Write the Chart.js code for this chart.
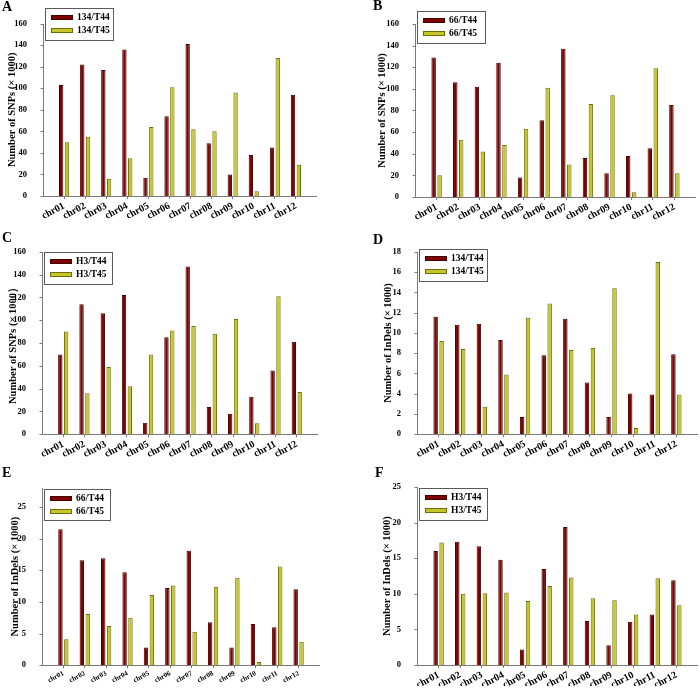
<!DOCTYPE html>
<html>
<head>
<meta charset="utf-8">
<script src="https://cdn.jsdelivr.net/npm/chart.js@4/dist/chart.umd.min.js"></script>
<style>
body { margin: 0; background: #fff; }
#wrap { position: relative; width: 700px; height: 689px; }
.panel { position: absolute; }
.tag { position: absolute; font: bold 14px "Liberation Serif", serif; line-height: 14px; }
</style>
</head>
<body>
<div id="wrap">
  <div class="panel" style="left:0;top:0"><canvas id="cA" width="350" height="228"></canvas></div>
  <div class="panel" style="left:350px;top:0"><canvas id="cB" width="350" height="228"></canvas></div>
  <div class="panel" style="left:0;top:228px"><canvas id="cC" width="350" height="230"></canvas></div>
  <div class="panel" style="left:350px;top:228px"><canvas id="cD" width="350" height="230"></canvas></div>
  <div class="panel" style="left:0;top:458px"><canvas id="cE" width="350" height="231"></canvas></div>
  <div class="panel" style="left:350px;top:458px"><canvas id="cF" width="350" height="231"></canvas></div>
  <div class="tag" style="left:2px;top:0px">A</div>
  <div class="tag" style="left:373px;top:-1px">B</div>
  <div class="tag" style="left:2px;top:231px">C</div>
  <div class="tag" style="left:373px;top:233px">D</div>
  <div class="tag" style="left:2px;top:466px">E</div>
  <div class="tag" style="left:375px;top:466px">F</div>
</div>
<script>
var chromosomes = ['chr01', 'chr02', 'chr03', 'chr04', 'chr05', 'chr06', 'chr07', 'chr08', 'chr09', 'chr10', 'chr11', 'chr12'];

// SNPs (x 1000)
var snpA44 = [103, 122, 117, 136, 17, 74, 141, 49, 20, 38, 45, 94];
var snpA45 = [50, 55, 16, 35, 64, 101, 62, 60, 96, 4.5, 128, 29];
var snpB44 = [129, 106, 102, 124, 18, 71, 137, 36, 22, 38, 45, 85];
var snpB45 = [20, 53, 42, 48, 63, 101, 30, 86, 94, 4.3, 119, 22];
var snpC44 = [70, 114, 106, 122, 10, 85, 147, 24, 18, 33, 56, 81];
var snpC45 = [90, 36, 59, 42, 70, 91, 95, 88, 101, 9.6, 121, 37];

// InDels (x 1000)
var indelD44 = [11.6, 10.8, 10.9, 9.3, 1.7, 7.8, 11.4, 5.1, 1.7, 4.0, 3.9, 7.9];
var indelD45 = [9.2, 8.4, 2.7, 5.9, 11.5, 12.9, 8.3, 8.5, 14.4, 0.6, 17.0, 3.9];
var indelE44 = [21.5, 16.6, 16.9, 14.7, 2.8, 12.2, 18.1, 6.8, 2.8, 6.5, 6.0, 12.0];
var indelE45 = [4.1, 8.1, 6.2, 7.5, 11.1, 12.6, 5.3, 12.4, 13.8, 0.5, 15.6, 3.7];
var indelF44 = [16.0, 17.3, 16.7, 14.8, 2.2, 13.5, 19.4, 6.2, 2.8, 6.1, 7.1, 11.9];
var indelF45 = [17.2, 10.0, 10.1, 10.2, 9.0, 11.1, 12.3, 9.4, 9.1, 7.1, 12.2, 8.4];

var serif = '"Liberation Serif", "Times New Roman", serif';
var red = '#7d0303', redEdge = '#450000';
var yellow = '#c5c52c', yellowEdge = '#6e6e08';

// axis lines drawn half a category beyond the bars, like the original
var axisLines = {
	id: 'axisLines',
	afterDraw: function (chart) {
		var ctx = chart.ctx, area = chart.chartArea, x = chart.scales.x, y = chart.scales.y;
		var half = (area.right - area.left) / x.ticks.length / 2;
		var left = Math.round(area.left - half) + 0.5;
		var right = Math.round(area.right + half);
		var base = Math.round(y.bottom) + 0.5;
		ctx.save();
		ctx.strokeStyle = '#7a7a7a';
		ctx.lineWidth = 1;
		ctx.beginPath();
		ctx.moveTo(left, Math.round(y.top));
		ctx.lineTo(left, base);
		ctx.lineTo(right, base);
		y.ticks.forEach(function (t) {
			var py = Math.round(y.getPixelForValue(t.value)) + 0.5;
			ctx.moveTo(left - 3, py);
			ctx.lineTo(left, py);
		});
		ctx.stroke();
		ctx.restore();
	}
};

var boxLegend = {
	id: 'boxLegend',
	afterDraw: function (chart, args, opts) {
		var ctx = chart.ctx;
		var bx = opts.x, by = opts.y;
		ctx.save();
		ctx.lineWidth = 1;
		ctx.strokeStyle = '#5a5a5a';
		ctx.strokeRect(bx + 0.5, by + 0.5, opts.w, opts.h);
		ctx.font = 'bold 9.5px ' + serif;
		ctx.textBaseline = 'middle';
		chart.data.datasets.forEach(function (ds, i) {
			var cy = Math.round(by + 9 + i * 12.5);
			ctx.fillStyle = ds.backgroundColor;
			ctx.fillRect(bx + 6, cy - 2, 22, 5);
			ctx.strokeStyle = ds.borderColor;
			ctx.strokeRect(bx + 6.5, cy - 1.5, 21, 4);
			ctx.fillStyle = '#000';
			ctx.fillText(ds.label, bx + 32, cy + 0.5);
		});
		ctx.restore();
	}
};

function makePanel(id, g, names, v44, v45, yMax, yStep, yTitle, xSize) {
	var canvas = document.getElementById(id);
	var W = canvas.width, H = canvas.height;
	var slot = (g.right - g.axisX) / 13;
	var chartLeft = g.axisX + slot / 2;
	var chartRight = g.right - slot / 2;

	new Chart(canvas, {
		type: 'bar',
		data: {
			labels: chromosomes,
			datasets: [
				{ label: names[0], data: v44, backgroundColor: red, borderColor: redEdge, borderWidth: 1,
				  categoryPercentage: 0.55, barPercentage: 0.75 },
				{ label: names[1], data: v45, backgroundColor: yellow, borderColor: yellowEdge, borderWidth: 1,
				  categoryPercentage: 0.55, barPercentage: 0.75 }
			]
		},
		options: {
			responsive: false,
			animation: false,
			layout: { padding: { left: 0, top: g.top, right: W - chartRight, bottom: 0 } },
			plugins: {
				legend: { display: false },
				tooltip: { enabled: false },
				boxLegend: { x: g.axisX + 2, y: g.top + 1, w: g.lw || 68, h: g.lh || 32 }
			},
			scales: {
				x: {
					border: { display: false },
					grid: { display: true, drawOnChartArea: false, offset: false, tickLength: 3, color: '#7a7a7a' },
					ticks: { autoSkip: false, minRotation: 28, maxRotation: 28, padding: 1, color: '#000',
						font: { family: serif, size: xSize, weight: 'bold' } },
					afterFit: function (s) { s.height = H - g.zero; }
				},
				y: {
					min: 0,
					max: yMax,
					border: { display: false },
					grid: { display: false },
					ticks: { stepSize: yStep, padding: slot / 2 + 8, color: '#000',
						font: { family: serif, size: 8.5, weight: 'bold' } },
					title: { display: true, text: yTitle, color: '#000',
						font: { family: serif, size: 10.5, weight: 'bold' },
						padding: { top: g.tx - 6.3, bottom: 0 } },
					afterBuildTicks: function (s) {
						s.ticks = s.ticks.filter(function (t) { return t.value % yStep === 0; });
					},
					afterFit: function (s) { s.width = chartLeft; }
				}
			}
		},
		plugins: [axisLines, boxLegend]
	});
}

makePanel('cA', { axisX: 43, top: 7, zero: 196, right: 317, tx: 12 }, ['134/T44', '134/T45'], snpA44, snpA45, 160, 20, 'Number of SNPs (× 1000)', 10);
makePanel('cB', { axisX: 65, top: 10, zero: 197, right: 346, tx: 32 }, ['66/T44', '66/T45'], snpB44, snpB45, 160, 20, 'Number of SNPs (× 1000)', 10);
makePanel('cC', { axisX: 42, top: 23, zero: 207, right: 318, tx: 13 }, ['H3/T44', 'H3/T45'], snpC44, snpC45, 160, 20, 'Number of SNPs (× 1000）', 10);
makePanel('cD', { axisX: 67, top: 20, zero: 207, right: 348, tx: 38 }, ['134/T44', '134/T45'], indelD44, indelD45, 18, 2, 'Number of InDels (× 1000)', 10);
makePanel('cE', { axisX: 42, top: 30, zero: 209, right: 320, tx: 15, lw: 66, lh: 31 }, ['66/T44', '66/T45'], indelE44, indelE45, 28, 5, 'Number of InDels (× 1000)', 7);
makePanel('cF', { axisX: 67, top: 29, zero: 210, right: 348, tx: 37 }, ['H3/T44', 'H3/T45'], indelF44, indelF45, 25, 5, 'Number of InDels (× 1000)', 10);
</script>
</body>
</html>
